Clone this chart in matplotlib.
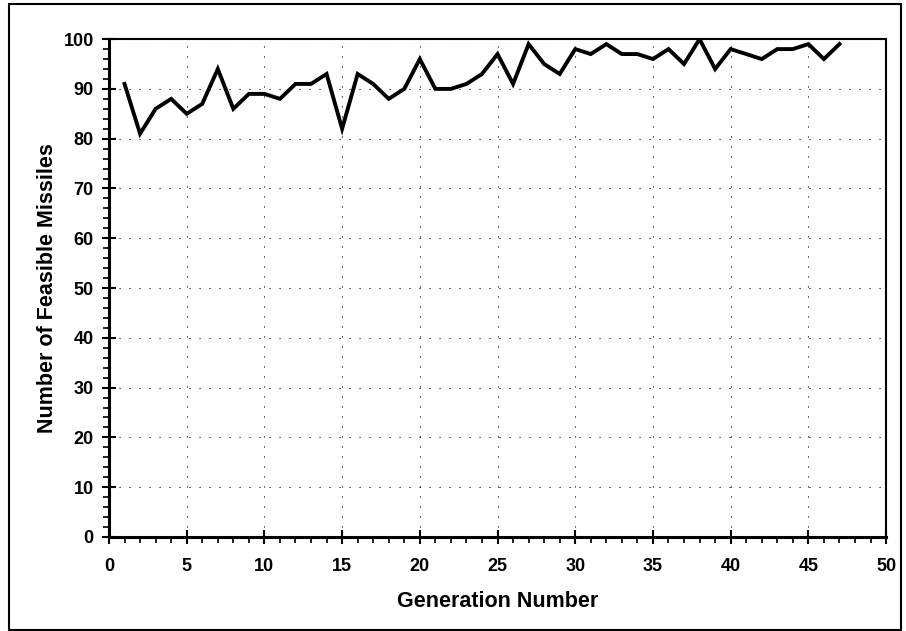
import matplotlib.pyplot as plt
from matplotlib.ticker import MultipleLocator
from matplotlib.patches import Rectangle

# Feasible missiles per generation
generation = list(range(1, 48))
feasible = [91, 81, 86, 88, 85, 87, 94, 86, 89, 89, 88, 91, 91, 93, 82, 93,
            91, 88, 90, 96, 90, 90, 91, 93, 97, 91, 99, 95, 93, 98, 97, 99,
            97, 97, 96, 98, 95, 100, 94, 98, 97, 96, 98, 98, 99, 96, 99]

plt.rcParams['font.family'] = ['Liberation Sans', 'DejaVu Sans']
plt.rcParams['font.weight'] = 'bold'

fig = plt.figure(figsize=(9.06, 6.31), dpi=100)
ax = fig.add_axes([0.1203, 0.149, 0.8577, 0.789])

ax.plot(generation, feasible, color='black', linewidth=2.8, solid_joinstyle='miter')

ax.set_xlim(0, 50)
ax.set_ylim(0, 100)
ax.xaxis.set_major_locator(MultipleLocator(5))
ax.xaxis.set_minor_locator(MultipleLocator(1))
ax.yaxis.set_major_locator(MultipleLocator(10))
ax.yaxis.set_minor_locator(MultipleLocator(2))
ax.tick_params(which='major', direction='inout', length=10, width=1.5, labelsize=13)
ax.tick_params(which='minor', direction='out', length=4, width=1.2)
ax.tick_params(axis='x', pad=10)
ax.tick_params(axis='y', pad=6)

ax.grid(True, which='major', color='black', linestyle=(0, (1, 8)), linewidth=0.8)

ax.spines['left'].set_linewidth(2.2)
ax.spines['bottom'].set_linewidth(2.2)
ax.spines['top'].set_linewidth(1.5)
ax.spines['right'].set_linewidth(1.5)

ax.set_xlabel('Generation Number', fontsize=15.5, fontweight='bold', labelpad=12)
ax.set_ylabel('Number of Feasible Missiles', fontsize=15.5, fontweight='bold', labelpad=4)

# outer frame around the whole figure
fig.patches.append(Rectangle((0.01, 0.002), 0.985, 0.992, transform=fig.transFigure,
                             fill=False, edgecolor='black', linewidth=1.5))

fig.savefig('out.png', dpi=100)
